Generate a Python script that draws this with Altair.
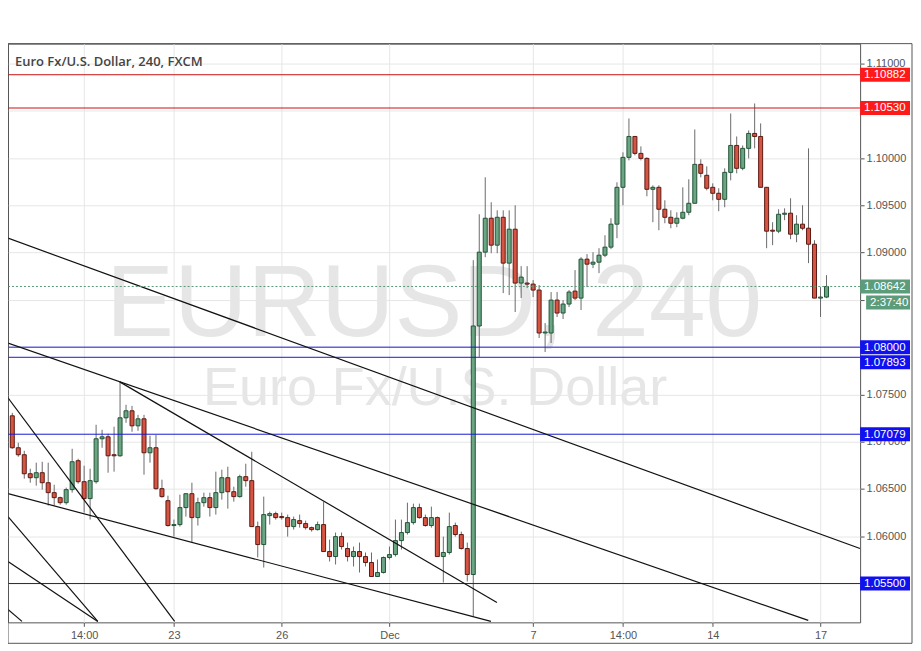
import altair as alt
import pandas as pd

# ---------------- data ----------------
bar_index = list(range(137))

opens = [
    1.07274, 1.06936, 1.06862, 1.06661, 1.06619, 1.06672, 1.06566, 1.06461, 1.06408, 1.06355,
    1.06493, 1.06799, 1.06577, 1.06398, 1.06577, 1.07031, 1.07052, 1.06862, 1.06851, 1.07253,
    1.07327, 1.07168, 1.07242, 1.06883, 1.06936, 1.06503, 1.06376, 1.06113, 1.06123, 1.06303,
    1.06450, 1.06197, 1.06355, 1.06408, 1.06303, 1.06461, 1.06619, 1.06471, 1.06419, 1.06630,
    1.06588, 1.06102, 1.05912, 1.06218, 1.06239, 1.06208, 1.06197, 1.06102, 1.06165, 1.06134,
    1.06091, 1.06070, 1.06123, 1.05838, 1.05785, 1.05996, 1.05870, 1.05785, 1.05838, 1.05785,
    1.05722, 1.05574, 1.05616, 1.05775, 1.05806, 1.05954, 1.06039, 1.06144, 1.06303, 1.06197,
    1.06113, 1.06197, 1.05785, 1.05828, 1.06113, 1.06018, 1.05870, 1.05595, 1.08224, 1.09005,
    1.09364, 1.09079, 1.09374, 1.08889, 1.09248, 1.08678, 1.08678, 1.08667, 1.08604, 1.08150,
    1.08150, 1.08498, 1.08361, 1.08456, 1.08593, 1.08519, 1.08931, 1.08878, 1.08899, 1.08973,
    1.09058, 1.09301, 1.09691, 1.10008, 1.10229, 1.10050, 1.09997, 1.09670, 1.09691, 1.09459,
    1.09374, 1.09311, 1.09364, 1.09427, 1.09522, 1.09934, 1.09818, 1.09691, 1.09628, 1.09564,
    1.09849, 1.10134, 1.09892, 1.10103, 1.10261, 1.10229, 1.09691, 1.09237, 1.09227, 1.09406,
    1.09417, 1.09195, 1.09301, 1.09258, 1.09089, 1.08519, 1.08530,
]
highs = [
    1.07305, 1.06989, 1.06904, 1.06714, 1.06778, 1.06788, 1.06778, 1.06545, 1.06419, 1.06514,
    1.06925, 1.06820, 1.06746, 1.06714, 1.07179, 1.07126, 1.07084, 1.07158, 1.07633, 1.07390,
    1.07379, 1.07284, 1.07284, 1.07063, 1.07073, 1.06598, 1.06429, 1.06176, 1.06440, 1.06450,
    1.06566, 1.06408, 1.06461, 1.06461, 1.06683, 1.06704, 1.06735, 1.06524, 1.06651, 1.06767,
    1.06894, 1.06155, 1.06419, 1.06260, 1.06260, 1.06250, 1.06229, 1.06208, 1.06229, 1.06165,
    1.06102, 1.06155, 1.06366, 1.05965, 1.06039, 1.06039, 1.05933, 1.05891, 1.05933, 1.05828,
    1.05828, 1.05754, 1.05785, 1.05891, 1.06176, 1.06176, 1.06355, 1.06345, 1.06345, 1.06229,
    1.06313, 1.06208, 1.05996, 1.06250, 1.06144, 1.06049, 1.05933, 1.08920, 1.09406, 1.09797,
    1.09533, 1.09448, 1.09448, 1.09448, 1.09501, 1.08857, 1.08857, 1.08709, 1.08657, 1.08255,
    1.08583, 1.08583, 1.08498, 1.08604, 1.08815, 1.08952, 1.08984, 1.09005, 1.09047, 1.09184,
    1.09364, 1.09744, 1.10061, 1.10419, 1.10229, 1.10124, 1.10008, 1.09712, 1.09712, 1.09554,
    1.09448, 1.09427, 1.09691, 1.09776, 1.10303, 1.09987, 1.09913, 1.09733, 1.09681, 1.09892,
    1.10472, 1.10229, 1.10134, 1.10293, 1.10578, 1.10367, 1.09691, 1.09322, 1.09459, 1.09469,
    1.09575, 1.09396, 1.09501, 1.10103, 1.09132, 1.08635, 1.08762,
]
lows = [
    1.06925, 1.06841, 1.06609, 1.06566, 1.06535, 1.06493, 1.06324, 1.06324, 1.06334, 1.06334,
    1.06461, 1.06556, 1.06250, 1.06176, 1.06556, 1.06936, 1.06672, 1.06683, 1.06841, 1.07200,
    1.07105, 1.07115, 1.06651, 1.06778, 1.06493, 1.06408, 1.06102, 1.05996, 1.06102, 1.06208,
    1.05933, 1.06113, 1.06313, 1.06208, 1.06229, 1.06387, 1.06292, 1.06366, 1.06408, 1.06524,
    1.06102, 1.05775, 1.05669, 1.06123, 1.06176, 1.06176, 1.05996, 1.06070, 1.06091, 1.06070,
    1.06049, 1.06060, 1.05838, 1.05733, 1.05701, 1.05859, 1.05733, 1.05680, 1.05616, 1.05680,
    1.05574, 1.05574, 1.05606, 1.05754, 1.05785, 1.05859, 1.06018, 1.06123, 1.06186, 1.06102,
    1.06091, 1.05785, 1.05511, 1.05806, 1.05996, 1.05859, 1.05521, 1.05152, 1.07897, 1.08952,
    1.08994, 1.08994, 1.08572, 1.08551, 1.08372, 1.08519, 1.08625, 1.08530, 1.08097, 1.07949,
    1.08044, 1.08319, 1.08298, 1.08424, 1.08498, 1.08393, 1.08635, 1.08836, 1.08783, 1.08952,
    1.09037, 1.09153, 1.09501, 1.09976, 1.10029, 1.09976, 1.09596, 1.09322, 1.09237, 1.09311,
    1.09258, 1.09269, 1.09353, 1.09396, 1.09522, 1.09797, 1.09659, 1.09554, 1.09438, 1.09480,
    1.09765, 1.09839, 1.09871, 1.09997, 1.10103, 1.09691, 1.09047, 1.09079, 1.09206, 1.09343,
    1.09142, 1.09110, 1.09237, 1.08889, 1.08519, 1.08319, 1.08519,
]
closes = [
    1.06936, 1.06862, 1.06661, 1.06619, 1.06672, 1.06566, 1.06461, 1.06408, 1.06355, 1.06493,
    1.06788, 1.06577, 1.06398, 1.06588, 1.07031, 1.07052, 1.06851, 1.06851, 1.07253, 1.07327,
    1.07168, 1.07242, 1.06883, 1.06936, 1.06503, 1.06419, 1.06113, 1.06123, 1.06303, 1.06450,
    1.06197, 1.06355, 1.06408, 1.06303, 1.06461, 1.06619, 1.06471, 1.06419, 1.06630, 1.06588,
    1.06102, 1.05912, 1.06229, 1.06239, 1.06197, 1.06197, 1.06102, 1.06176, 1.06134, 1.06091,
    1.06070, 1.06123, 1.05838, 1.05785, 1.05996, 1.05891, 1.05785, 1.05838, 1.05785, 1.05722,
    1.05574, 1.05616, 1.05775, 1.05806, 1.05954, 1.06039, 1.06144, 1.06303, 1.06197, 1.06113,
    1.06197, 1.05785, 1.05828, 1.06102, 1.06018, 1.05870, 1.05595, 1.08224, 1.09005, 1.09364,
    1.09079, 1.09374, 1.08889, 1.09248, 1.08678, 1.08741, 1.08667, 1.08604, 1.08150, 1.08160,
    1.08498, 1.08361, 1.08456, 1.08583, 1.08519, 1.08931, 1.08878, 1.08899, 1.08973, 1.09058,
    1.09301, 1.09691, 1.10008, 1.10229, 1.10050, 1.09997, 1.09670, 1.09691, 1.09459, 1.09374,
    1.09311, 1.09364, 1.09427, 1.09522, 1.09934, 1.09839, 1.09681, 1.09628, 1.09564, 1.09849,
    1.10134, 1.09892, 1.10103, 1.10261, 1.10229, 1.09691, 1.09227, 1.09227, 1.09406, 1.09417,
    1.09195, 1.09301, 1.09258, 1.09089, 1.08519, 1.08530, 1.08642,
]

x_ticks = [12, 27, 45, 63, 87, 102, 117, 135]
x_labels = ["14:00", "23", "26", "Dec", "7", "14:00", "14", "17"]
y_ticks = [1.055, 1.060, 1.065, 1.070, 1.075, 1.080, 1.085, 1.090, 1.095, 1.100, 1.105, 1.110]
# tick labels that sit under a price tag in the reference
y_hidden_labels = [1.055, 1.080, 1.085, 1.105]

red_levels = [1.10882, 1.10530]
blue_levels = [1.08000, 1.07893, 1.07079, 1.05500]
last_price = 1.08642
countdown = "2:37:40"

# trend lines drawn on the chart: (bar index, price) -> (bar index, price)
trend_x1 = [-0.717, -0.717, 17.95, -0.717, -0.717, -0.717, -0.717, -0.717]
trend_p1 = [1.09153, 1.08044, 1.07633, 1.06450, 1.07464, 1.06207, 1.05732, 1.05226]
trend_x2 = [141.6, 132.95, 80.95, 79.95, 27.12, 14.28, 14.28, 1.62]
trend_p2 = [1.05870, 1.05110, 1.05300, 1.05099, 1.05099, 1.05099, 1.05099, 1.05099]

title_text = "Euro Fx/U.S. Dollar, 240, FXCM"
wm_symbol = "EURUSD, 240"
wm_name = "Euro Fx/U.S. Dollar"

# ---------------- chart ----------------
W, H = 854, 580
xscale = alt.Scale(domain=[-0.717, 141.617], nice=False, zero=False, padding=0)
yscale = alt.Scale(domain=[1.05089, 1.11211], nice=False, zero=False, padding=0)

label_expr = " : ".join(f"datum.value == {v} ? '{t}'" for v, t in zip(x_ticks, x_labels)) + " : ''"
hide_expr = " || ".join(f"abs(datum.value - {v}) < 0.0001" for v in y_hidden_labels)
y_label_expr = f"({hide_expr}) ? '' : format(datum.value, '.5f')"

candles = pd.DataFrame({"i": bar_index, "o": opens, "h": highs, "l": lows, "c": closes})
candles["dir"] = ["up" if c >= o else "down" for o, c in zip(opens, closes)]

AXFONT = "Liberation Sans, Arial, sans-serif"

xaxis = alt.Axis(values=x_ticks, labelExpr=label_expr, grid=True, gridColor="#e6e6e6",
                 domain=False, ticks=True, tickSize=4, tickColor="#555555",
                 labelColor="#555555", labelFontSize=11, labelFont=AXFONT, title=None,
                 labelPadding=3, labelOverlap=False, labelFlush=False)
yaxis = alt.Axis(values=y_ticks, labelExpr=y_label_expr, orient="right", grid=True, gridColor="#e6e6e6",
                 domain=False, ticks=True, tickSize=4, tickColor="#555555",
                 labelColor="#555555", labelFontSize=11, labelFont=AXFONT, title=None,
                 labelPadding=2, labelOverlap=False, labelFlush=False)

base = alt.Chart(candles)

wicks = base.mark_rule(color="#6a6a6c", strokeWidth=1).encode(
    x=alt.X("i:Q", scale=xscale, axis=xaxis),
    y=alt.Y("l:Q", scale=yscale, axis=yaxis),
    y2="h:Q",
)

bodies = base.mark_bar(size=4, strokeWidth=1).encode(
    x=alt.X("i:Q", scale=xscale),
    y=alt.Y("o:Q", scale=yscale),
    y2="c:Q",
    fill=alt.Fill("dir:N", scale=alt.Scale(domain=["up", "down"], range=["#6ba583", "#d75442"]), legend=None),
    stroke=alt.Stroke("dir:N", scale=alt.Scale(domain=["up", "down"], range=["#225437", "#5b1a13"]), legend=None),
)

one = pd.DataFrame({"k": [0]})

wm1 = alt.Chart(pd.DataFrame({"t": [wm_symbol]})).mark_text(
    font=AXFONT, fontSize=102, color="#e6e6e6", align="center", baseline="alphabetic"
).encode(x=alt.value(427), y=alt.value(293), text="t:N")
wm2 = alt.Chart(pd.DataFrame({"t": [wm_name]})).mark_text(
    font=AXFONT, fontSize=54, color="#e6e6e6", align="center", baseline="alphabetic"
).encode(x=alt.value(428), y=alt.value(362), text="t:N")

trend_df = pd.DataFrame({"x1": trend_x1, "p1": trend_p1, "x2": trend_x2, "p2": trend_p2})
trends = alt.Chart(trend_df).mark_rule(color="#111111", strokeWidth=1.2, clip=True).encode(
    x=alt.X("x1:Q", scale=xscale), y=alt.Y("p1:Q", scale=yscale), x2="x2:Q", y2="p2:Q"
)

red_lines = alt.Chart(pd.DataFrame({"p": red_levels})).mark_rule(color="#cc1111", strokeWidth=1).encode(
    y=alt.Y("p:Q", scale=yscale))
blue_lines = alt.Chart(pd.DataFrame({"p": blue_levels})).mark_rule(color="#1a1ad2", strokeWidth=1).encode(
    y=alt.Y("p:Q", scale=yscale))
last_line = alt.Chart(pd.DataFrame({"p": [last_price]})).mark_rule(
    color="#5a9a78", strokeWidth=1, strokeDash=[2, 2]).encode(y=alt.Y("p:Q", scale=yscale))


def price_tag(values, texts, fill, x0, x1, dy=0):
    df = pd.DataFrame({"p": values, "t": texts})
    b = alt.Chart(df)
    rect = b.mark_rect(fill=fill, yOffset=dy - 7, y2Offset=dy + 7).encode(
        x=alt.value(x0), x2=alt.value(x1), y=alt.Y("p:Q", scale=yscale), y2="p:Q")
    txt = b.mark_text(color="white", align="left", baseline="middle", fontSize=11.5,
                      font=AXFONT, dy=dy + 0.5).encode(
        x=alt.value(x0 + 4), y=alt.Y("p:Q", scale=yscale), text="t:N")
    return rect + txt


fmt = lambda v: f"{v:.5f}"
tags = [
    price_tag(red_levels, [fmt(v) for v in red_levels], "#ff1a1a", 854, 904),
    price_tag([1.08000, 1.07079, 1.05500], [fmt(1.08000), fmt(1.07079), fmt(1.05500)], "#1010f0", 854, 904),
    price_tag([1.07893], [fmt(1.07893)], "#1010f0", 854, 904, dy=5),
    price_tag([last_price], [fmt(last_price)], "#5d9c7a", 854, 904),
    price_tag([last_price], [countdown], "#5d9c7a", 860, 904, dy=16),
]

title = alt.Chart(pd.DataFrame({"t": [title_text]})).mark_text(
    font="Open Sans, DejaVu Sans, sans-serif", fontSize=13, fontWeight=600, color="#444444",
    align="left", baseline="alphabetic").encode(x=alt.value(7), y=alt.value(22), text="t:N")

frame = alt.Chart(one).mark_rect(fill="transparent", stroke="#555555", strokeWidth=1).encode(
    x=alt.value(0), x2=alt.value(906), y=alt.value(0), y2=alt.value(601))

chart = alt.layer(
    wm1, wm2, wicks, bodies, red_lines, blue_lines, trends, last_line, *tags, title, frame
).properties(
    width=W, height=H,
    autosize=alt.AutoSizeParams(type="none"),
    padding={"left": 0, "top": 35, "right": 53, "bottom": 24},
    background="white",
).configure_view(stroke="#555555", strokeWidth=1)

chart.save("out.html", embed_options={"renderer": "svg", "actions": False})
